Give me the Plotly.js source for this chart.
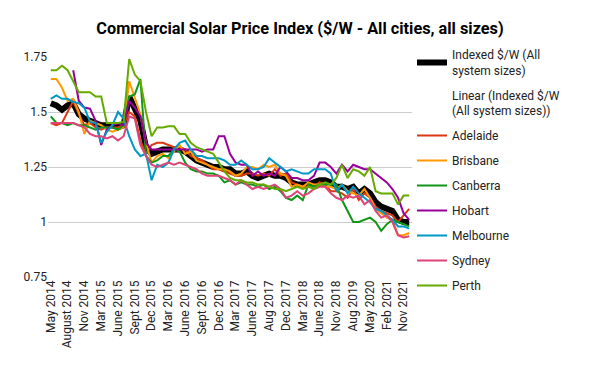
<!DOCTYPE html>
<html><head><meta charset="utf-8">
<script src="https://cdn.plot.ly/plotly-3.0.1.min.js"></script>
<style>html,body{margin:0;padding:0;background:#fff}#chart{width:600px;height:371px}</style>
</head><body><div id="chart"></div>
<script>
const categories = ["May 2014","June 2014","July 2014","August 2014","Sept 2014","Oct 2014","Nov 2014","Dec 2014","Feb 2015","Mar 2015",
"Apr 2015","May 2015","June 2015","July 2015","Aug 2015","Sept 2015","Oct 2015","Nov 2015","Dec 2015","Jan 2016",
"Feb 2016","Mar 2016","Apr 2016","May 2016","June 2016","July 2016","Aug 2016","Sept 2016","Oct 2016","Nov 2016",
"Dec 2016","Jan 2017","Feb 2017","Mar 2017","Apr 2017","May 2017","June 2017","July 2017","Jul 2017","Aug 2017",
"Oct 2017","Nov 2017","Dec 2017","Jan 2018","Feb 2018","Mar 2018","Apr 2018","May 2018","June 2018","Aug 2018",
"Sept 2018","Nov 2018","Feb 2019","May 2019","Aug 2019","Nov 2019","Feb 2020","May 2020","Aug 2020","Nov 2020",
"Feb 2021","May 2021","Aug 2021","Nov 2021","Dec 2021"];
const tickLabels = ["May 2014","August 2014","Nov 2014","Mar 2015","June 2015","Sept 2015","Dec 2015","Mar 2016","June 2016","Sept 2016","Dec 2016","Mar 2017","June 2017","Aug 2017","Dec 2017","Mar 2018","June 2018","Nov 2018","Aug 2019","May 2020","Feb 2021","Nov 2021"];
const yTicks = [0.75, 1, 1.25, 1.5, 1.75];
const yTickText = ["0.75", "1", "1.25", "1.5", "1.75"];

const indexed = [1.54,1.53,1.51,1.53,1.54,1.49,1.47,1.46,1.45,1.44, 1.44,1.44,1.43,1.44,1.57,1.51,1.46,1.34,1.31,1.32, 1.33,1.33,1.33,1.33,1.32,1.30,1.28,1.27,1.26,1.25, 1.25,1.24,1.24,1.22,1.22,1.23,1.21,1.20,1.21,1.22, 1.21,1.21,1.20,1.18,1.17,1.17,1.17,1.18,1.19,1.19, 1.18,1.16,1.16,1.15,1.16,1.13,1.15,1.13,1.09,1.07, 1.06,1.05,1.01,1.00,1.00];
const adelaide = [1.45,1.44,1.45,1.50,1.55,1.49,1.44,1.45,1.43,1.42, 1.43,1.43,1.43,1.44,1.50,1.48,1.37,1.31,1.35,1.36, 1.36,1.35,1.34,1.34,1.33,1.30,1.29,1.28,1.26,1.24, 1.24,1.23,1.22,1.21,1.21,1.22,1.22,1.21,1.22,1.21, 1.24,1.21,1.22,1.18,1.17,1.16,1.16,1.16,1.18,1.17, 1.14,1.14,1.13,1.11,1.15,1.10,1.13,1.11,1.07,1.05, 1.04,1.03,1.00,1.03,1.06];
const brisbane = [1.65,1.65,1.61,1.55,1.56,1.50,1.40,1.46,1.45,1.44, 1.42,1.41,1.42,1.43,1.64,1.56,1.49,1.36,1.27,1.30, 1.31,1.29,1.32,1.35,1.31,1.32,1.28,1.27,1.26,1.25, 1.24,1.24,1.23,1.21,1.22,1.25,1.25,1.24,1.26,1.25, 1.26,1.22,1.21,1.16,1.17,1.16,1.18,1.17,1.17,1.16, 1.16,1.15,1.17,1.14,1.13,1.12,1.15,1.11,1.06,1.04, 1.02,1.01,0.94,0.94,0.95];
const canberra = [1.48,1.45,1.45,1.44,1.45,1.44,1.44,1.43,1.42,1.43, 1.43,1.43,1.42,1.44,1.57,1.58,1.65,1.30,1.27,1.28, 1.30,1.30,1.33,1.32,1.27,1.24,1.23,1.23,1.22,1.22, 1.21,1.18,1.19,1.17,1.18,1.17,1.17,1.16,1.17,1.15, 1.16,1.14,1.11,1.10,1.12,1.10,1.17,1.16,1.17,1.17, 1.17,1.17,1.10,1.05,1.00,1.00,1.01,1.02,1.00,0.96, 0.99,1.01,1.00,0.99,0.98];
const hobart = [null,null,null,null,1.69,1.55,1.52,1.515,1.46,1.35, 1.42,1.44,1.45,1.44,1.55,1.52,1.48,1.36,1.33,1.33, 1.33,1.33,1.33,1.33,1.33,1.33,1.33,1.32,1.33,1.33, 1.39,1.39,1.31,1.27,1.26,1.26,1.21,1.23,1.21,1.22, 1.21,1.25,1.23,1.20,1.20,1.19,1.19,1.21,1.27,1.27, 1.25,1.22,1.26,1.23,1.26,1.25,1.24,1.24,1.22,1.20, 1.18,1.15,1.11,1.04,1.01];
const melbourne = [1.56,1.575,1.56,1.56,1.545,1.54,1.52,1.455,1.45,1.36, 1.41,1.44,1.50,1.47,1.39,1.33,1.30,1.31,1.19,1.26, 1.25,1.27,1.33,1.36,1.37,1.33,1.30,1.30,1.29,1.29, 1.29,1.28,1.26,1.26,1.28,1.26,1.24,1.24,1.25,1.29, 1.27,1.25,1.23,1.24,1.23,1.22,1.22,1.24,1.24,1.24, 1.22,1.14,1.17,1.13,1.16,1.13,1.11,1.09,1.06,1.05, 1.03,1.01,0.98,0.98,0.97];
const sydney = [1.45,1.45,1.45,1.45,1.45,1.44,1.43,1.40,1.39,1.39, 1.38,1.39,1.37,1.39,1.48,1.47,1.35,1.30,1.26,1.25, 1.26,1.27,1.26,1.27,1.26,1.25,1.24,1.22,1.21,1.21, 1.21,1.20,1.19,1.17,1.19,1.17,1.15,1.16,1.15,1.16, 1.17,1.15,1.11,1.12,1.14,1.12,1.13,1.15,1.16,1.16, 1.13,1.11,1.10,1.12,1.11,1.12,1.08,1.10,1.05,1.02, 1.03,1.00,0.94,0.93,0.935];
const perth = [1.69,1.69,1.71,1.69,1.64,1.59,1.59,1.59,1.57,1.57, 1.45,1.45,1.45,1.455,1.74,1.67,1.64,1.50,1.39,1.43, 1.43,1.435,1.435,1.40,1.40,1.36,1.34,1.33,1.32,1.31, 1.27,1.23,1.20,1.19,1.19,1.18,1.18,1.17,1.17,1.16, 1.15,1.15,1.14,1.15,1.16,1.15,1.16,1.15,1.17,1.18, 1.17,1.20,1.26,1.20,1.24,1.23,1.21,1.25,1.14,1.13, 1.13,1.13,1.08,1.12,1.12];

// least-squares linear trend of the indexed series (drawn invisibly, as in the source)
const n = indexed.length;
let sx=0, sy=0, sxx=0, sxy=0;
indexed.forEach((v,i)=>{sx+=i; sy+=v; sxx+=i*i; sxy+=i*v;});
const slope = (n*sxy - sx*sy)/(n*sxx - sx*sx);
const intercept = (sy - slope*sx)/n;
const linear = indexed.map((v,i)=>intercept + slope*i);

const cities = [
  {name:"Adelaide", y:adelaide, color:"#dc3912"},
  {name:"Brisbane", y:brisbane, color:"#ff9900"},
  {name:"Canberra", y:canberra, color:"#109618"},
  {name:"Hobart", y:hobart, color:"#990099"},
  {name:"Melbourne", y:melbourne, color:"#0099c6"},
  {name:"Sydney", y:sydney, color:"#dd4477"},
  {name:"Perth", y:perth, color:"#66aa00"}
];

const traces = [
  {x:categories, y:indexed, name:"Indexed $/W (All<br>system sizes)", legendgroup:"g0", type:"scatter", mode:"lines", line:{color:"#000000", width:6}},
  {x:categories, y:linear, name:"Linear (Indexed $/W<br>(All system sizes))", legendgroup:"g1", type:"scatter", mode:"lines", line:{color:"rgba(0,0,0,0)", width:2}, hoverinfo:"skip"}
];
cities.forEach((c,k)=>traces.push({x:categories, y:c.y, name:c.name, legendgroup:"c"+k, type:"scatter", mode:"lines", line:{color:c.color, width:2}, connectgaps:false}));

const layout = {
  width:600, height:371,
  margin:{l:48, r:188, t:57, b:94},
  paper_bgcolor:"#ffffff", plot_bgcolor:"#ffffff",
  font:{family:"Roboto, Arial, sans-serif", size:12, color:"#222222"},
  title:{text:"<b>Commercial Solar Price Index ($/W - All cities, all sizes)</b>", x:0.5, xref:"container", xanchor:"center", y:0.925, yref:"container", yanchor:"middle", font:{family:"Roboto, Arial, sans-serif", size:16.3, color:"#000000"}},
  xaxis:{type:"category", tickmode:"array", tickvals:tickLabels, ticktext:tickLabels, tickangle:-90, range:[-0.5, n-0.5], showgrid:false, zeroline:false, showline:false, ticks:"", tickfont:{size:12, color:"#222222"}},
  yaxis:{range:[0.75,1.75], tickmode:"array", tickvals:yTicks, ticktext:yTickText, gridcolor:"#cccccc", gridwidth:1, zeroline:false, showline:false, ticks:"", tickfont:{size:12, color:"#222222"}},
  showlegend:true,
  legend:{x:1.0, xanchor:"left", y:1.075, yanchor:"top", traceorder:"grouped", tracegroupgap:6, maxheight:330, font:{size:12, color:"#222222"}, bgcolor:"rgba(0,0,0,0)"}
};
Plotly.newPlot("chart", traces, layout, {displayModeBar:false, staticPlot:true});
</script>
</body></html>
